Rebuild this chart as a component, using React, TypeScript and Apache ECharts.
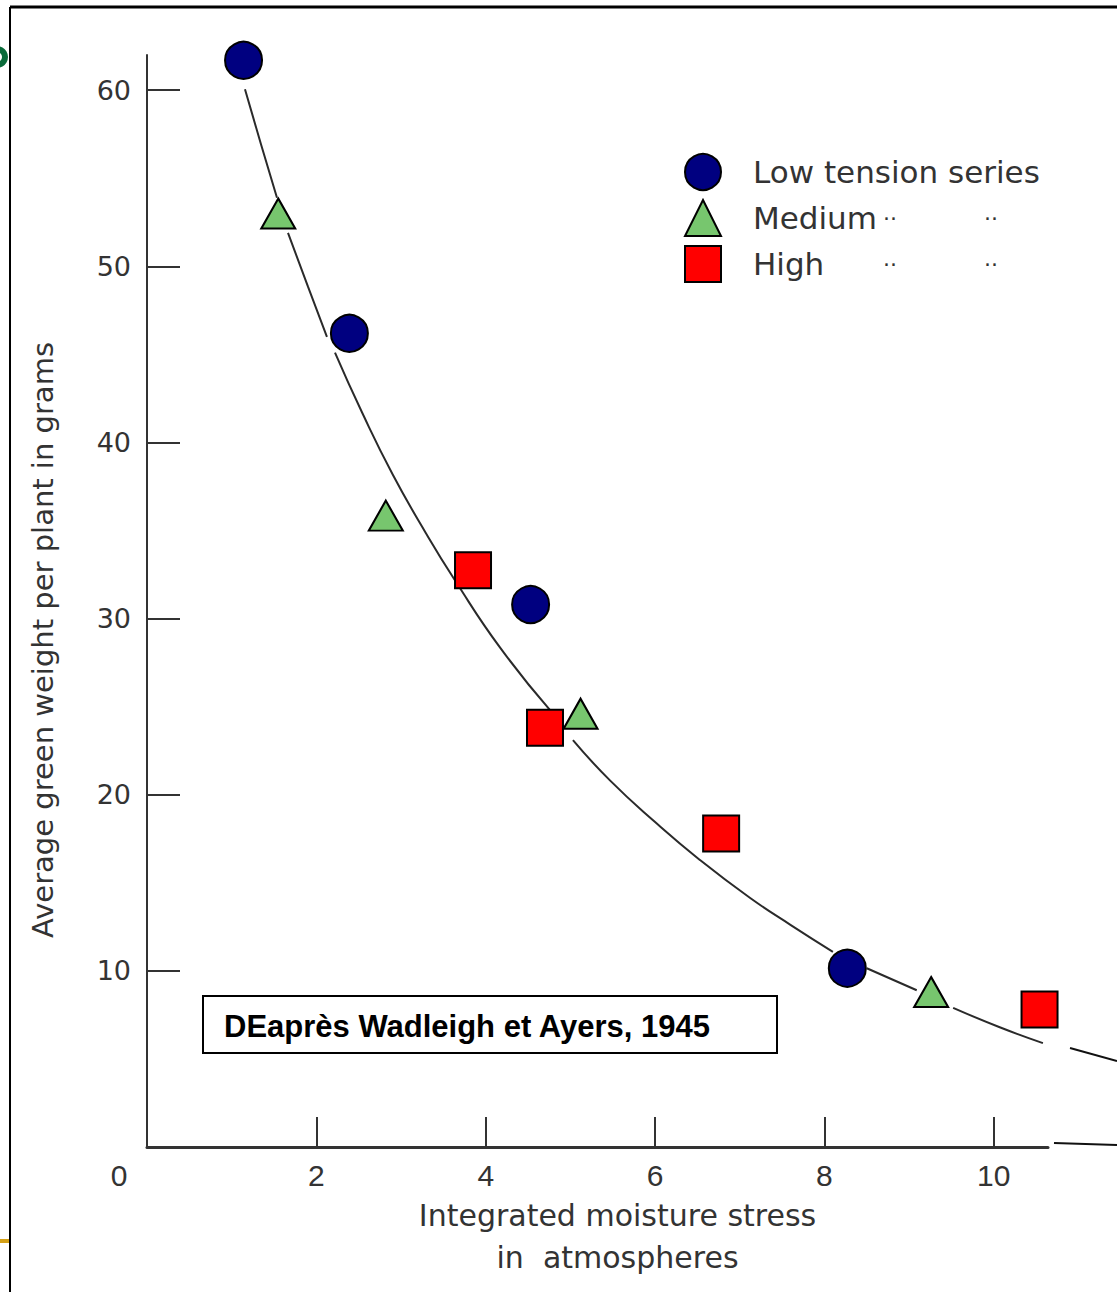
import React, { useEffect, useRef } from "react";
import * as echarts from "echarts";

// ---- data ----
const lowX = [1.14, 2.39, 4.53, 8.27];
const lowY = [61.7, 46.2, 30.8, 10.15];
const medX = [1.55, 2.82, 5.12, 9.26];
const medY = [53.0, 35.85, 24.6, 8.8];
const highX = [3.85, 4.7, 6.78, 10.54];
const highY = [32.75, 23.8, 17.8, 7.8];

// fitted curve drawn in broken segments (null = gap)
const curveX = [1.157, 1.346, 1.535, null, 1.665, 1.9, 2.125, null, 2.22, 2.54, 2.9, 3.294, 3.64, 4.17, 4.76, null, 5.03, 5.47, 6.0, 6.529, 7.119, 7.603, 8.1, null, 8.5, 9.09, null, 9.52, 10.07, 10.58];
const curveY = [60.06, 56.93, 53.9, null, 51.9, 48.86, 46.0, null, 45.1, 41.7, 38.2, 34.85, 32.15, 28.35, 24.8, null, 23.1, 20.8, 18.45, 16.3, 14.15, 12.6, 11.08, null, 10.15, 8.9, null, 7.9, 6.8, 5.9];

const xTickValues = [2, 4, 6, 8, 10];
const xLabelValues = [0, 2, 4, 6, 8, 10];
const yTickValues = [10, 20, 30, 40, 50, 60];

const seriesNames = ["Low tension series", "Medium", "High"];
const xTitle = "Integrated moisture stress\nin  atmospheres";
const yTitle = "Average green weight per plant in grams";
const sourceNote = "DEaprès Wadleigh et Ayers, 1945";

const pairs = (xs: (number | null)[], ys: (number | null)[]) =>
  xs.map((x, i) => (x === null || ys[i] === null ? ["-", "-"] : [x, ys[i]]));

export default function App() {
  const ref = useRef<HTMLDivElement>(null);
  useEffect(() => {
    if (!ref.current) return;
    const chart = echarts.init(ref.current, null, { renderer: "svg" });
    const ink = "#333";
    const sans = "'DejaVu Sans', sans-serif";
    const narrow = "'Liberation Sans Narrow', 'Liberation Sans', sans-serif";
    chart.setOption({
      animation: false,
      backgroundColor: "#fff",
      grid: { left: 147, right: 69, top: 55, bottom: 145, containLabel: false },
      xAxis: {
        type: "value",
        min: 0,
        max: 10.64,
        interval: 2,
        splitLine: { show: false },
        axisLine: { show: true, lineStyle: { color: ink, width: 3 } },
        axisTick: { show: true, inside: true, length: 30, customValues: xTickValues, lineStyle: { color: ink, width: 2 } },
        axisLabel: {
          customValues: xLabelValues,
          margin: 13,
          color: ink,
          fontSize: 30,
          fontFamily: narrow,
          formatter: (v: number) => (v === 0 ? "{z|0}" : String(v)),
          rich: {
            z: { padding: [0, 56, 0, 0], fontSize: 30, color: ink, fontFamily: narrow },
          },
        },
        name: xTitle,
        nameLocation: "middle",
        nameGap: 31,
        nameTextStyle: {
          color: ink,
          fontSize: 30,
          lineHeight: 42,
          fontFamily: sans,
          padding: [0, 0, 0, 40],
        },
      },
      yAxis: {
        type: "value",
        min: 0,
        max: 62,
        interval: 10,
        splitLine: { show: false },
        axisLine: { show: true, lineStyle: { color: ink, width: 2 } },
        axisTick: { show: true, inside: true, length: 33, customValues: yTickValues, lineStyle: { color: ink, width: 2 } },
        axisLabel: {
          customValues: yTickValues,
          margin: 16,
          color: ink,
          fontSize: 27,
          fontFamily: sans,
        },
        name: yTitle,
        nameLocation: "middle",
        nameGap: 90,
        nameTextStyle: {
          color: ink,
          fontSize: 29,
          fontFamily: sans,
          padding: [0, 78, 0, 0],
        },
      },
      legend: {
        data: seriesNames,
        orient: "vertical",
        left: 679,
        top: 148,
        itemWidth: 36,
        itemHeight: 36,
        itemGap: 8,
        textStyle: {
          color: ink,
          fontSize: 31,
          lineHeight: 36,
          fontFamily: sans,
          padding: [0, 0, 0, 27],
          rich: {
            n: { width: 130, fontSize: 31, lineHeight: 36, color: ink, fontFamily: sans },
            d: { width: 101, fontSize: 22, lineHeight: 36, color: ink, fontFamily: sans },
          },
        },
        formatter: (name: string) =>
          name === seriesNames[0] ? name : `{n|${name}}{d|··}{d|··}`,
      },
      series: [
        {
          type: "line",
          name: "curve",
          data: pairs(curveX, curveY),
          showSymbol: false,
          smooth: 0.5,
          connectNulls: false,
          lineStyle: { color: "#2a2a2a", width: 2 },
          z: 2,
          silent: true,
        },
        {
          type: "scatter",
          name: seriesNames[0],
          data: pairs(lowX, lowY),
          symbol: "circle",
          symbolSize: 37,
          itemStyle: { color: "#000080", borderColor: "#000", borderWidth: 2, opacity: 1 },
          z: 5,
        },
        {
          type: "scatter",
          name: seriesNames[1],
          data: pairs(medX, medY),
          symbol: "triangle",
          symbolSize: [34, 30],
          itemStyle: { color: "#77C66E", borderColor: "#000", borderWidth: 2, opacity: 1 },
          z: 5,
        },
        {
          type: "scatter",
          name: seriesNames[2],
          data: pairs(highX, highY),
          symbol: "rect",
          symbolSize: 36,
          itemStyle: { color: "#FF0000", borderColor: "#000", borderWidth: 2, opacity: 1 },
          z: 5,
        },
      ],
      graphic: [
        // page frame
        { type: "line", shape: { x1: 10, y1: 7, x2: 1117, y2: 7 }, style: { stroke: "#000", lineWidth: 3 } },
        { type: "line", shape: { x1: 10, y1: 7, x2: 10, y2: 1292 }, style: { stroke: "#000", lineWidth: 2 } },
        { type: "ring", shape: { cx: -3, cy: 57, r: 11, r0: 5 }, style: { fill: "#0a6b3a" } },
        { type: "rect", shape: { x: 0, y: 1239, width: 9, height: 4 }, style: { fill: "#D4A017" } },
        // line fragments beyond the plot
        { type: "line", shape: { x1: 1070, y1: 1048, x2: 1117, y2: 1061 }, style: { stroke: "#111", lineWidth: 2 } },
        { type: "line", shape: { x1: 1054, y1: 1143, x2: 1117, y2: 1145 }, style: { stroke: "#111", lineWidth: 2 } },
        // source box
        {
          type: "rect",
          shape: { x: 203, y: 996, width: 574, height: 57 },
          style: { fill: "#fff", stroke: "#000", lineWidth: 2 },
          z: 10,
        },
        {
          type: "text",
          x: 224,
          y: 1026,
          z: 11,
          style: { text: sourceNote, fill: "#000", font: "bold 31px 'Liberation Sans', Arial, sans-serif", verticalAlign: "middle" },
        },
      ],
    });
    return () => chart.dispose();
  }, []);
  return (
    <div
      ref={ref}
      style={{ position: "absolute", left: 0, top: 0, width: 1117, height: 1292, background: "#fff" }}
    />
  );
}
